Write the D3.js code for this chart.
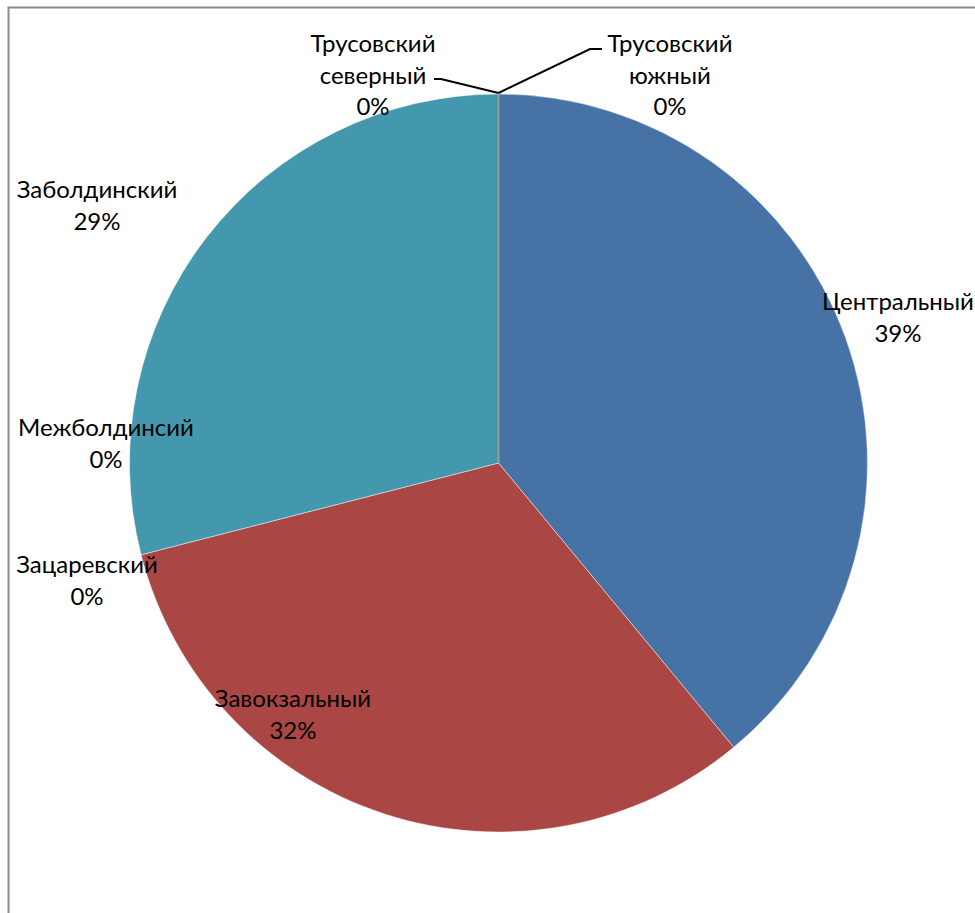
<!DOCTYPE html>
<html>
<head>
<meta charset="utf-8">
<script src="https://cdn.jsdelivr.net/npm/d3@7"></script>
<style>
  html, body { margin: 0; padding: 0; background: #fff; overflow: hidden; }
  svg { display: block; }
  text { font-family: Lato, "Open Sans", sans-serif; fill: #000; }
</style>
</head>
<body>
<svg id="chart" width="975" height="913"></svg>
<script>
// Districts in drawing order (clockwise from 12 o'clock)
const districts = [
  "Трусовский южный",
  "Центральный",
  "Завокзальный",
  "Зацаревский",
  "Межболдинсий",
  "Заболдинский",
  "Трусовский северный"
];
// Share of each district, %
const shares = [0, 39, 32, 0, 0, 29, 0];
// Slice colours per district
const sliceColors = ["#4672A6", "#4672A6", "#AA4744", "#89A54E", "#71588F", "#4398AE", "#DB843D"];

const W = 975, H = 913;
const cx = 498.5, cy = 463, R = 369;

const svg = d3.select("#chart");

// chart-area frame (its right and bottom edges fall outside the view)
svg.append("rect")
  .attr("x", 8.5).attr("y", 7.5)
  .attr("width", W + 20).attr("height", H + 20)
  .attr("fill", "none").attr("stroke", "#8c8c8c").attr("stroke-width", 2);

const data = districts.map((name, i) => ({ name, value: shares[i], color: sliceColors[i] }));

const pie = d3.pie().value(d => d.value).sort(null);
const arcs = pie(data);
const arc = d3.arc().innerRadius(0).outerRadius(R);

const g = svg.append("g").attr("transform", `translate(${cx},${cy})`);

// visible slices
g.selectAll("path.slice")
  .data(arcs.filter(a => a.data.value > 0))
  .join("path")
  .attr("class", "slice")
  .attr("d", arc)
  .attr("fill", d => d.data.color)
  .attr("stroke", "rgba(255,255,255,0.45)")
  .attr("stroke-width", 1);

// zero slices at the start seam collapse to a radial line
g.selectAll("path.seam")
  .data(arcs.filter(a => a.data.value === 0 &&
    (a.startAngle < 1e-6 || a.startAngle > 2 * Math.PI - 1e-6)))
  .join("path")
  .attr("class", "seam")
  .attr("d", arc)
  .attr("fill", "none")
  .attr("stroke", "#9a9a9a")
  .attr("stroke-width", 1.5);

// label placement (centre x, first baseline) per district
const labelPos = {
  "Трусовский южный":    { x: 670, y: 52, lines: ["Трусовский", "южный"] },
  "Центральный":         { x: 898, y: 310 },
  "Завокзальный":        { x: 293, y: 707 },
  "Зацаревский":         { x: 87,  y: 573 },
  "Межболдинсий":        { x: 106, y: 436 },
  "Заболдинский":        { x: 97,  y: 198 },
  "Трусовский северный": { x: 373, y: 52, lines: ["Трусовский", "северный"] }
};
const lineGap = 31.5;
const fontSize = 24;

arcs.forEach(a => {
  const p = labelPos[a.data.name];
  const lines = (p.lines || [a.data.name]).concat([d3.format(".0f")(a.data.value) + "%"]);
  const t = svg.append("text")
    .attr("text-anchor", "middle")
    .attr("font-size", fontSize);
  lines.forEach((ln, i) => {
    t.append("tspan").attr("x", p.x).attr("y", p.y + i * lineGap).text(ln);
  });
});

// leader lines for the two top zero slices
const outerPt = a => {
  const ang = a.startAngle;
  return [cx + R * Math.sin(ang), cy - R * Math.cos(ang)];
};
const leaders = {
  "Трусовский южный":    [[590, 49], [602, 49]],
  "Трусовский северный": [[441, 79], [434, 79]]
};
arcs.filter(a => leaders[a.data.name]).forEach(a => {
  const [x0, y0] = outerPt(a);
  const pts = [[x0, y0 - 1]].concat(leaders[a.data.name]);
  svg.append("path")
    .attr("d", d3.line()(pts))
    .attr("fill", "none")
    .attr("stroke", "#000")
    .attr("stroke-width", 2);
});
</script>
</body>
</html>
